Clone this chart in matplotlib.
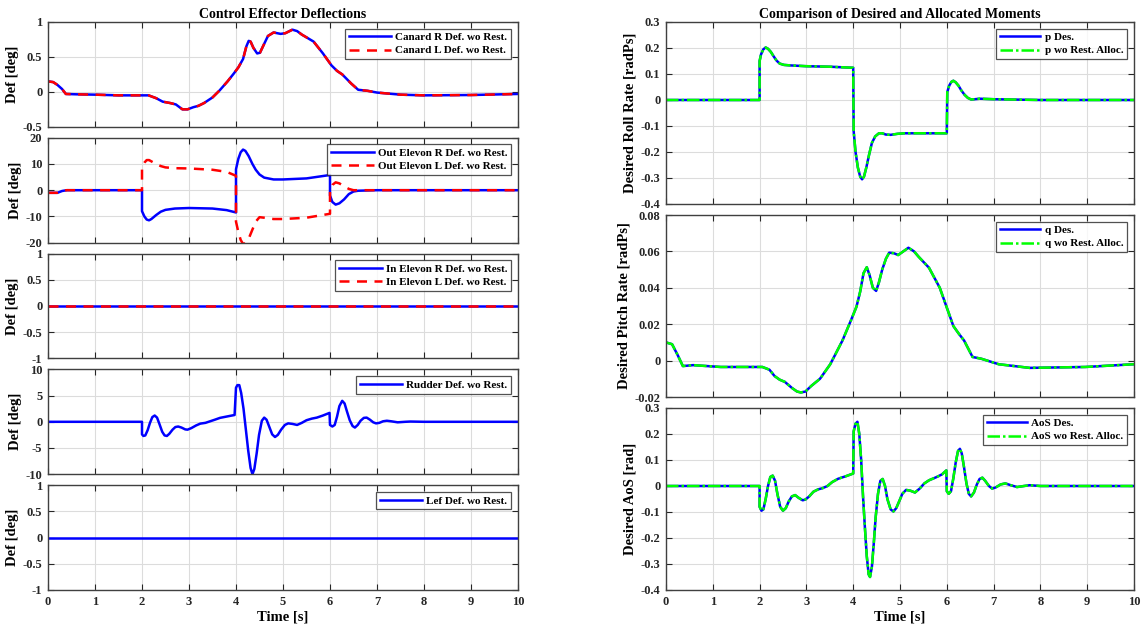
import numpy as np
import matplotlib
matplotlib.use('Agg')
import matplotlib.pyplot as plt
from matplotlib.ticker import FuncFormatter

# fonts / matlab-like look
plt.rcParams['font.family'] = ['Liberation Serif', 'DejaVu Serif']
plt.rcParams['font.weight'] = 'bold'
plt.rcParams['axes.labelweight'] = 'bold'
plt.rcParams['axes.titleweight'] = 'bold'
plt.rcParams['axes.unicode_minus'] = False

# ---------------- data ----------------
# canard deflection (R and L coincide)
canard_t = [0, 0.11, 0.2, 0.3, 0.38, 0.6, 1.0, 1.5, 2.0, 2.14, 2.3, 2.44, 2.6, 2.72, 2.86,
            2.97, 3.09, 3.2, 3.32, 3.5, 3.65, 3.82, 3.95, 4.05, 4.15, 4.22, 4.27, 4.31,
            4.37, 4.45, 4.51, 4.58, 4.68, 4.8, 4.95, 5.05, 5.2, 5.3, 5.4, 5.65, 5.85,
            6.03, 6.15, 6.26, 6.45, 6.6, 6.8, 7.0, 7.5, 8.0, 9.0, 10.0]
canard_r = [0.15, 0.14, 0.1, 0.04, -0.03, -0.035, -0.04, -0.05, -0.05, -0.05, -0.09,
            -0.14, -0.16, -0.18, -0.25, -0.25, -0.22, -0.2, -0.16, -0.08, 0.02, 0.15,
            0.26, 0.35, 0.47, 0.65, 0.73, 0.72, 0.63, 0.55, 0.56, 0.66, 0.8, 0.85, 0.83,
            0.84, 0.89, 0.87, 0.82, 0.72, 0.55, 0.38, 0.3, 0.25, 0.12, 0.03, 0.015, -0.01,
            -0.04, -0.05, -0.045, -0.03]
canard_l = canard_r

# outer elevons
elev_t = [0, 0.2, 0.3, 0.4, 2.0, 2.0, 2.05, 2.1, 2.15, 2.2, 2.3, 2.4, 2.5, 2.7, 3.0,
          3.5, 3.8, 4.0, 4.0, 4.05, 4.1, 4.15, 4.2, 4.27, 4.35, 4.42, 4.5, 4.6, 4.8,
          5.0, 5.5, 6.0, 6.0, 6.05, 6.12, 6.2, 6.3, 6.4, 6.5, 6.6, 7.0, 10.0]
elev_r = [-1, -1, -0.3, 0, 0, -8, -10, -11.2, -11.5, -11, -9.5, -8.2, -7.5, -7.0, -6.8,
          -7.0, -7.6, -8.5, 8, 12, 14.5, 15.5, 15, 13, 10, 7.8, 6, 4.8, 4.1,
          4.1, 4.5, 5.8, -2, -4.5, -5.5, -5, -3.5, -1.5, -0.5, -0.2, 0, 0]
elev_l = [-1, -1, -0.3, 0, 0, 9, 10.5, 11.5, 11.5, 11, 10, 9.2, 8.7, 8.4, 8.3,
          7.8, 7, 5.5, -12, -16, -19, -20.5, -20.2, -18.5, -15, -12, -10.3, -10.5, -11,
          -11, -10.5, -9, 0, 2, 3, 2.6, 1.5, 0.5, 0, 0, 0, 0]

# inner elevons (zero)
inelev_t = [0, 10]
inelev_r = [0, 0]
inelev_l = [0, 0]

# rudder
rud_t = [0, 2.0, 2.0, 2.03, 2.07, 2.12, 2.17, 2.22, 2.27, 2.32, 2.37, 2.43, 2.48, 2.53,
         2.58, 2.65, 2.71, 2.77, 2.84, 2.92, 2.97, 3.05, 3.15, 3.24, 3.35, 3.45, 3.55,
         3.66, 3.8, 3.97, 4.0, 4.03, 4.07, 4.11, 4.16, 4.21, 4.26, 4.31, 4.35, 4.39,
         4.44, 4.49, 4.55, 4.6, 4.65, 4.71, 4.77, 4.83, 4.89, 4.96, 5.04, 5.11, 5.2,
         5.3, 5.4, 5.5, 5.61, 5.72, 5.85, 5.99, 6.0, 6.05, 6.1, 6.15, 6.2, 6.26, 6.31,
         6.36, 6.42, 6.48, 6.53, 6.59, 6.65, 6.72, 6.78, 6.85, 6.92, 6.98, 7.05, 7.13,
         7.21, 7.3, 7.44, 7.6, 7.71, 8.0, 10.0]
rud = [0, 0, -2.4, -2.7, -2.6, -1.6, -0.2, 0.9, 1.2, 0.8, -0.4, -1.9, -2.6, -2.7,
       -2.3, -1.5, -1.0, -0.9, -1.1, -1.45, -1.5, -1.2, -0.7, -0.35, -0.2, 0.1, 0.4,
       0.75, 1.0, 1.3, 6.5, 7.0, 7.0, 5.5, 2.5, -1.5, -5.5, -8.8, -10.0, -9.0,
       -6.0, -2.5, 0.2, 0.8, 0.4, -1.0, -2.4, -2.9, -2.5, -1.5, -0.6, -0.3, -0.4,
       -0.6, -0.2, 0.3, 0.6, 0.8, 1.2, 1.7, -0.6, -0.9, -0.6, 1.0, 3.0, 4.0, 3.5,
       2.0, 0.3, -0.8, -1.1, -0.6, 0.2, 0.75, 0.8, 0.4, -0.1, -0.3, -0.2, 0.1,
       0.2, 0.1, -0.1, 0.0, 0.05, 0, 0]

# leading edge flap (zero)
lef_t = [0, 10]
lef = [0, 0]

# desired / allocated roll rate
p_t = [0, 2.0, 2.0, 2.03, 2.08, 2.13, 2.18, 2.24, 2.3, 2.36, 2.43, 2.52, 2.66, 3.0,
       3.5, 4.0, 4.01, 4.05, 4.1, 4.15, 4.19, 4.23, 4.28, 4.34, 4.4, 4.47, 4.55,
       4.62, 4.7, 4.8, 4.95, 5.1, 6.0, 6.01, 6.05, 6.1, 6.14, 6.19, 6.25, 6.31,
       6.38, 6.45, 6.52, 6.6, 6.7, 6.85, 7.0, 8.0, 10.0]
p_des = [0, 0, 0.15, 0.175, 0.195, 0.202, 0.197, 0.185, 0.168, 0.152, 0.14, 0.135,
         0.133, 0.13, 0.128, 0.124, -0.12, -0.2, -0.26, -0.295, -0.305, -0.295,
         -0.26, -0.21, -0.165, -0.14, -0.128, -0.128, -0.133, -0.134, -0.13, -0.128,
         -0.128, 0.03, 0.055, 0.07, 0.074, 0.068, 0.055, 0.037, 0.02, 0.008, 0.002,
         0.003, 0.005, 0.004, 0.003, 0, 0]
p_alloc = p_des

# desired / allocated pitch rate
q_t = [0, 0.13, 0.25, 0.36, 0.58, 1.17, 2.06, 2.21, 2.32, 2.43, 2.54, 2.69, 2.8, 2.88,
       2.98, 3.1, 3.29, 3.51, 3.77, 3.95, 4.07, 4.15, 4.22, 4.29, 4.35, 4.42, 4.49,
       4.55, 4.62, 4.7, 4.77, 4.87, 4.96, 5.07, 5.18, 5.3, 5.4, 5.62, 5.85, 6.14,
       6.25, 6.37, 6.55, 6.74, 7.11, 7.77, 8.96, 10.0]
q_des = [0.010, 0.009, 0.003, -0.003, -0.0025, -0.0035, -0.0035, -0.005, -0.0085,
         -0.0105, -0.0117, -0.015, -0.017, -0.0175, -0.017, -0.014, -0.01, -0.002,
         0.011, 0.022, 0.0296, 0.038, 0.048, 0.0513, 0.047, 0.04, 0.0383, 0.043, 0.05,
         0.056, 0.0593, 0.059, 0.058, 0.06, 0.062, 0.06, 0.057, 0.051, 0.040,
         0.019, 0.015, 0.011, 0.002, 0.001, -0.002, -0.004, -0.0035, -0.002]
q_alloc = q_des

# desired / allocated angle of sideslip
aos_t = [0, 2.0, 2.0, 2.04, 2.08, 2.13, 2.18, 2.23, 2.28, 2.33, 2.38, 2.44, 2.5, 2.56,
         2.62, 2.69, 2.76, 2.83, 2.92, 2.98, 3.06, 3.15, 3.25, 3.35, 3.45, 3.55, 3.68,
         3.85, 4.0, 4.01, 4.05, 4.09, 4.13, 4.17, 4.21, 4.25, 4.29, 4.33, 4.36, 4.4,
         4.44, 4.48, 4.53, 4.58, 4.63, 4.68, 4.73, 4.8, 4.86, 4.92, 4.98, 5.05, 5.13,
         5.22, 5.32, 5.42, 5.52, 5.62, 5.79, 5.9, 5.99, 6.0, 6.04, 6.09, 6.14, 6.19,
         6.24, 6.28, 6.32, 6.37, 6.42, 6.47, 6.52, 6.58, 6.64, 6.7, 6.76, 6.82, 6.9,
         6.97, 7.05, 7.15, 7.25, 7.35, 7.5, 7.65, 7.77, 8.0, 10.0]
aos_des = [0, 0, -0.08, -0.095, -0.09, -0.05, 0.0, 0.035, 0.04, 0.02, -0.03, -0.08,
           -0.095, -0.085, -0.06, -0.04, -0.035, -0.045, -0.055, -0.052, -0.04, -0.022,
           -0.013, -0.008, 0.0, 0.015, 0.028, 0.038, 0.048, 0.21, 0.24, 0.247, 0.2, 0.1,
           -0.04, -0.16, -0.27, -0.34, -0.35, -0.31, -0.22, -0.12, -0.03, 0.02, 0.027,
           0.0, -0.05, -0.09, -0.098, -0.085, -0.06, -0.03, -0.015, -0.018, -0.025,
           -0.01, 0.01, 0.022, 0.035, 0.045, 0.06, -0.02, -0.03, -0.02, 0.03, 0.09,
           0.135, 0.143, 0.125, 0.07, 0.01, -0.03, -0.04, -0.025, 0.005, 0.027, 0.032,
           0.02, 0.0, -0.01, -0.005, 0.006, 0.01, 0.004, -0.004, 0.0, 0.003, 0, 0]
aos_alloc = aos_des

# ---------------- figure ----------------
fig = plt.figure(figsize=(11.44, 6.28), dpi=100)
W, H = 1144.0, 628.0

gridc = '#dcdcdc'
spinec = '#404040'
green_ls = (0, (5, 1.2, 1, 1.2))
red_ls = (0, (4, 3))


def style(ax, yticks, show_x):
    ax.set_xlim(0, 10)
    ax.set_ylim(yticks[0], yticks[-1])
    ax.set_xticks(range(0, 11))
    ax.set_yticks(yticks)
    ax.yaxis.set_major_formatter(FuncFormatter(lambda v, p: '%g' % round(v, 4)))
    ax.grid(True, color=gridc, lw=0.8)
    ax.set_axisbelow(True)
    ax.tick_params(direction='in', top=True, right=True, labelsize=9,
                   length=4, width=0.8, colors='#262626', pad=4)
    for s in ax.spines.values():
        s.set_color(spinec)
        s.set_linewidth(1.0)
    if not show_x:
        ax.tick_params(labelbottom=False)
    else:
        ax.set_xlabel('Time [s]', fontsize=10.5, labelpad=2)


def leg(ax, hl=3.8):
    l = ax.legend(loc='upper right', fontsize=8, fancybox=False, edgecolor='#262626',
                  handlelength=hl, borderpad=0.35, labelspacing=0.3, handletextpad=0.4,
                  borderaxespad=0.6)
    l.get_frame().set_linewidth(0.9)


# left column
lx, lw_ = 48 / W, 470 / W
lh, lg, ltop = 104.8, 11.0, 22.0
left_axes = []
for k in range(5):
    bot = ltop + (k + 1) * lh + k * lg
    left_axes.append(fig.add_axes([lx, 1 - bot / H, lw_, lh / H]))

ax = left_axes[0]
ax.plot(canard_t, canard_r, color='b', lw=1.8, label='Canard R Def. wo Rest.')
ax.plot(canard_t, canard_l, color='r', lw=1.8, ls=red_ls, label='Canard L Def. wo Rest.')
style(ax, [-0.5, 0, 0.5, 1], False)
ax.set_title('Control Effector Deflections', fontsize=10, pad=3)
leg(ax)

ax = left_axes[1]
ax.plot(elev_t, elev_r, color='b', lw=1.8, label='Out Elevon R Def. wo Rest.')
ax.plot(elev_t, elev_l, color='r', lw=1.8, ls=red_ls, label='Out Elevon L Def. wo Rest.')
style(ax, [-20, -10, 0, 10, 20], False)
leg(ax)

ax = left_axes[2]
ax.plot(inelev_t, inelev_r, color='b', lw=1.8, label='In Elevon R Def. wo Rest.')
ax.plot(inelev_t, inelev_l, color='r', lw=1.8, ls=red_ls, label='In Elevon L Def. wo Rest.')
style(ax, [-1, -0.5, 0, 0.5, 1], False)
leg(ax)

ax = left_axes[3]
ax.plot(rud_t, rud, color='b', lw=1.8, label='Rudder Def. wo Rest.')
style(ax, [-10, -5, 0, 5, 10], False)
leg(ax)

ax = left_axes[4]
ax.plot(lef_t, lef, color='b', lw=1.8, label='Lef Def. wo Rest.')
style(ax, [-1, -0.5, 0, 0.5, 1], True)
leg(ax)

for ax in left_axes:
    ax.set_ylabel('Def [deg]', fontsize=10.5, labelpad=3)

# right column
rx, rw = 666 / W, 468 / W
rh, rg, rtop = 182.0, 11.0, 22.0
right_axes = []
for k in range(3):
    bot = rtop + (k + 1) * rh + k * rg
    right_axes.append(fig.add_axes([rx, 1 - bot / H, rw, rh / H]))

ax = right_axes[0]
ax.plot(p_t, p_des, color='b', lw=1.8, label='p Des.')
ax.plot(p_t, p_alloc, color='#00ff00', lw=1.8, ls=green_ls, label='p wo Rest. Alloc.')
style(ax, [-0.4, -0.3, -0.2, -0.1, 0, 0.1, 0.2, 0.3], False)
ax.set_title('Comparison of Desired and Allocated Moments', fontsize=10, pad=3)
ax.set_ylabel('Desired Roll Rate [radPs]', fontsize=10.5, labelpad=3)
leg(ax, 3.6)

ax = right_axes[1]
ax.plot(q_t, q_des, color='b', lw=1.8, label='q Des.')
ax.plot(q_t, q_alloc, color='#00ff00', lw=1.8, ls=green_ls, label='q wo Rest. Alloc.')
style(ax, [-0.02, 0, 0.02, 0.04, 0.06, 0.08], False)
ax.set_ylabel('Desired Pitch Rate [radPs]', fontsize=10.5, labelpad=3)
leg(ax, 3.6)

ax = right_axes[2]
ax.plot(aos_t, aos_des, color='b', lw=1.8, label='AoS Des.')
ax.plot(aos_t, aos_alloc, color='#00ff00', lw=1.8, ls=green_ls, label='AoS wo Rest. Alloc.')
style(ax, [-0.4, -0.3, -0.2, -0.1, 0, 0.1, 0.2, 0.3], True)
ax.set_ylabel('Desired AoS [rad]', fontsize=10.5, labelpad=3)
leg(ax, 3.6)

plt.savefig('out.png', dpi=100)
